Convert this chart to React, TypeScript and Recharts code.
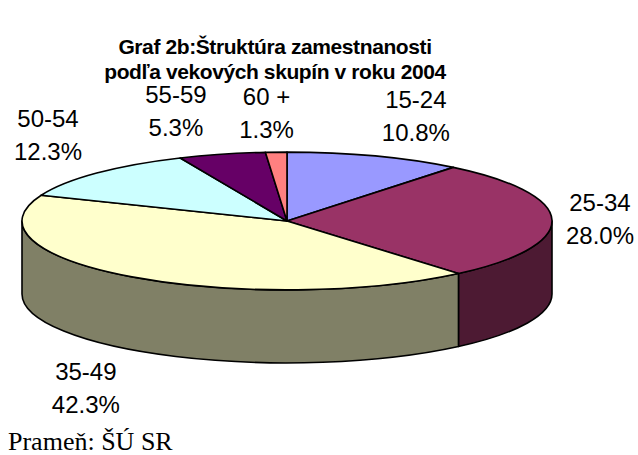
import { PieChart, Pie, Cell } from "recharts";

// age groups and their share of employment (%)
const ageGroups = ["15-24", "25-34", "35-49", "50-54", "55-59", "60 +"];
const shares = [10.8, 28.0, 42.3, 12.3, 5.3, 1.3];
const topColors = ["#9999FF", "#993366", "#FFFFCC", "#CCFFFF", "#660066", "#FF8080"];
const sideColors = ["#4D4D80", "#4D1A33", "#808066", "#668080", "#330033", "#804040"];

const rows = ageGroups.map((name, i) => ({ name, value: shares[i] }));

// fake 3D: the circle is squashed into an ellipse and given a side wall
const TILT = 0.26;
const DEPTH = 73;
const LABEL_RX = 330;
const LABEL_RY = 113;
// small hand nudges so the labels sit where Excel put them
const labelShift = [
  [19, 2],
  [-17, -1],
  [-8, 2],
  [-2, -7],
  [-30, 0],
  [-7, 5],
];

const RAD = Math.PI / 180;
const SANS = "'Liberation Sans', Arial, sans-serif";

function Slice3D(props: any) {
  const { cx, cy, outerRadius, startAngle, endAngle, midAngle, index, percent } = props;
  const rx = outerRadius;
  const ry = outerRadius * TILT;
  const pt = (a: number, drop = 0) =>
    `${cx + rx * Math.cos(a * RAD)},${cy - ry * Math.sin(a * RAD) + drop}`;

  const large = startAngle - endAngle > 180 ? 1 : 0;
  const top = `M${cx},${cy} L${pt(startAngle)} A${rx},${ry} 0 ${large} 1 ${pt(endAngle)} Z`;

  // only the front half of the rim (sin < 0) is visible
  const hi = Math.min(startAngle, 0);
  const lo = Math.max(endAngle, -180);
  const wall =
    lo < hi
      ? `M${pt(hi)} A${rx},${ry} 0 0 1 ${pt(lo)} L${pt(lo, DEPTH)} A${rx},${ry} 0 0 0 ${pt(hi, DEPTH)} Z`
      : null;

  const s = Math.sin(midAngle * RAD);
  const lx = cx + LABEL_RX * Math.cos(midAngle * RAD) + labelShift[index][0];
  const ly = cy - LABEL_RY * s + (s < 0 ? DEPTH : 0) + labelShift[index][1];

  return (
    <g>
      {wall && <path d={wall} fill={sideColors[index]} stroke="#000" strokeWidth={1.6} strokeLinejoin="round" />}
      <path d={top} fill={topColors[index]} stroke="#000" strokeWidth={1.6} strokeLinejoin="round" />
      <text x={lx} y={ly - 8} textAnchor="middle" fontFamily={SANS} fontSize={24} fill="#000">
        {ageGroups[index]}
      </text>
      <text x={lx} y={ly + 25} textAnchor="middle" fontFamily={SANS} fontSize={24} fill="#000">
        {(percent * 100).toFixed(1)}%
      </text>
    </g>
  );
}

export default function App() {
  return (
    <div style={{ position: "relative", width: 638, height: 455, background: "#fff" }}>
      <style>{"body{margin:0}"}</style>
      <div
        style={{
          position: "absolute",
          left: 0,
          top: 34,
          width: 550,
          textAlign: "center",
          fontFamily: SANS,
          fontWeight: "bold",
          fontSize: 21,
          letterSpacing: -0.4,
          lineHeight: "25px",
          color: "#000",
        }}
      >
        Graf 2b:Štruktúra zamestnanosti
        <br />
        podľa vekových skupín v roku 2004
      </div>
      <PieChart width={638} height={455} margin={{ top: 0, right: 0, bottom: 0, left: 0 }}>
        <Pie
          data={rows}
          dataKey="value"
          nameKey="name"
          cx={287}
          cy={221}
          outerRadius={265}
          startAngle={90}
          endAngle={-270}
          stroke="none"
          label={Slice3D}
          labelLine={false}
          isAnimationActive={false}
        >
          {rows.map((r) => (
            <Cell key={r.name} fill="none" stroke="none" />
          ))}
        </Pie>
      </PieChart>
      <div
        style={{
          position: "absolute",
          left: 8,
          top: 429,
          fontFamily: "'Liberation Serif', 'Times New Roman', serif",
          fontSize: 26,
          lineHeight: "26px",
          color: "#000",
        }}
      >
        Prameň: ŠÚ SR
      </div>
    </div>
  );
}
